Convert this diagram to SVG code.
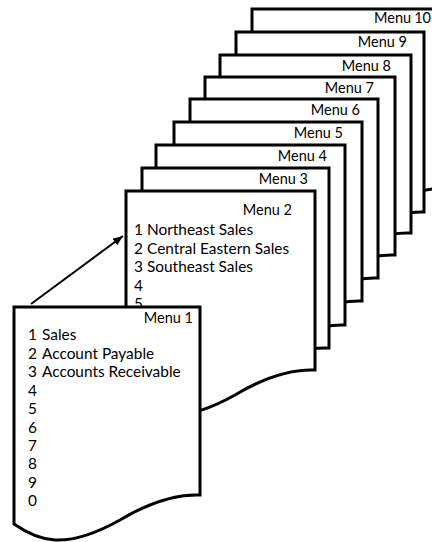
<svg xmlns="http://www.w3.org/2000/svg" width="432" height="542" viewBox="0 0 432 542">
<defs>
<style>
.card{fill:#fff;stroke:#000;stroke-width:3;stroke-linejoin:miter}
.t{font-family:Lato,"Liberation Sans",sans-serif;font-size:14.5px;fill:#000;text-anchor:end}
.i{font-family:Lato,"Liberation Sans",sans-serif;font-size:15.4px;fill:#000}
.conn{stroke:#000;stroke-width:2;fill:none}
</style>
<marker id="ah" markerUnits="userSpaceOnUse" markerWidth="11" markerHeight="8" refX="10" refY="4" orient="auto">
<path d="M0,0 L10,4 L0,8 z" fill="#000"/>
</marker>
</defs>
<rect width="432" height="542" fill="#fff"/>
<g id="menu10">
<path class="card" d="M252,9 H450 V188 C425,187 400,195 370,213 C345,227 325,234 305,233 C288,232 274,224 252,217 Z"/>
<text class="t" x="431" y="23">Menu<tspan dx="3">10</tspan></text>
</g>
<g id="menu9">
<path class="card" d="M236,32 H424 V212 C399,211 374,219 344,237 C319,251 299,258 279,257 C262,256 248,248 236,241 Z"/>
<text class="t" x="407" y="47">Menu 9</text>
</g>
<g id="menu8">
<path class="card" d="M220,55 H411 V233 C386,232 361,240 331,258 C306,272 286,279 266,278 C249,277 235,269 220,262 Z"/>
<text class="t" x="391" y="71">Menu 8</text>
</g>
<g id="menu7">
<path class="card" d="M205,77 H395 V255 C370,254 345,262 315,280 C290,294 270,301 250,300 C233,299 219,291 205,284 Z"/>
<text class="t" x="374" y="93">Menu 7</text>
</g>
<g id="menu6">
<path class="card" d="M190,99 H378 V278 C353,277 328,285 298,303 C273,317 253,324 233,323 C216,322 202,314 190,307 Z"/>
<text class="t" x="360" y="115">Menu 6</text>
</g>
<g id="menu5">
<path class="card" d="M174,122 H362 V301 C337,300 312,308 282,326 C257,340 237,347 217,346 C200,345 186,337 174,330 Z"/>
<text class="t" x="343" y="138">Menu 5</text>
</g>
<g id="menu4">
<path class="card" d="M156,145 H345 V325 C320,324 295,332 265,350 C240,364 220,371 200,370 C183,369 169,361 156,354 Z"/>
<text class="t" x="327" y="161">Menu 4</text>
</g>
<g id="menu3">
<path class="card" d="M142,168 H329 V348 C304,347 279,355 249,373 C224,387 204,394 184,393 C167,392 153,384 142,377 Z"/>
<text class="t" x="308" y="184">Menu 3</text>
</g>
<g id="menu2">
<path class="card" d="M126,191 H315 V370 C290,369 265,377 235,395 C210,409 190,416 170,415 C153,414 139,406 126,399 Z"/>
<text class="t" x="292" y="215">Menu 2</text>
<text class="i" y="235"><tspan x="134">1</tspan><tspan x="147">Northeast Sales</tspan></text>
<text class="i" y="254"><tspan x="134">2</tspan><tspan x="147">Central Eastern Sales</tspan></text>
<text class="i" y="272"><tspan x="134">3</tspan><tspan x="147">Southeast Sales</tspan></text>
<text class="i" x="134" y="291">4</text>
<text class="i" x="134" y="309">5</text>
</g>
<g id="connectors">
<line class="conn" x1="31" y1="304" x2="123" y2="236" marker-end="url(#ah)"/>
</g>
<g id="menu1">
<path class="card" d="M14,307 H200 V495 C175,494 150,502 120,520 C95,534 75,541 55,540 C38,539 24,531 14,524 Z"/>
<text class="t" x="193" y="323">Menu 1</text>
<text class="i" y="340"><tspan x="28">1</tspan><tspan x="42">Sales</tspan></text>
<text class="i" y="359"><tspan x="28">2</tspan><tspan x="42">Account Payable</tspan></text>
<text class="i" y="377"><tspan x="28">3</tspan><tspan x="42">Accounts Receivable</tspan></text>
<text class="i" x="28" y="396">4</text>
<text class="i" x="28" y="414">5</text>
<text class="i" x="28" y="433">6</text>
<text class="i" x="28" y="451">7</text>
<text class="i" x="28" y="469">8</text>
<text class="i" x="28" y="488">9</text>
<text class="i" x="28" y="506">0</text>
</g>
</svg>
